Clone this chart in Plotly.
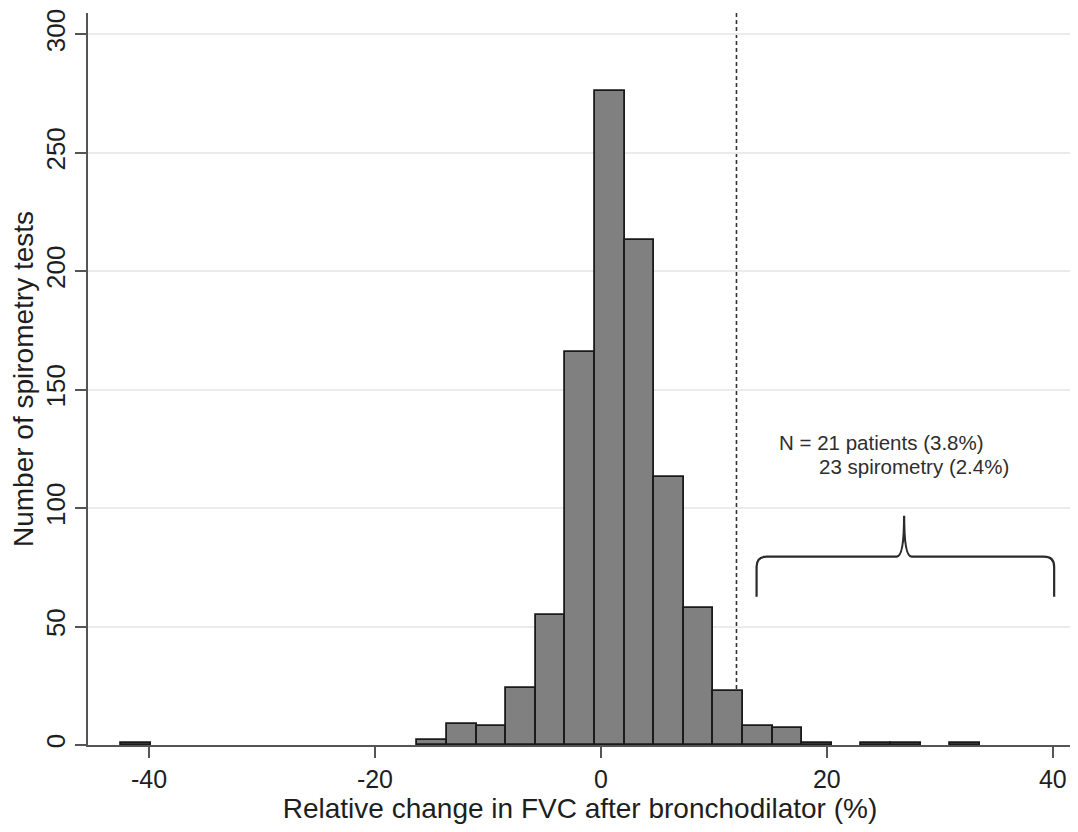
import plotly.graph_objects as go

# Histogram definition
bin_start = -42.45
bin_width = 2.62
counts = [1, 0, 0, 0, 0, 0, 0, 0, 0, 0,
          2, 9, 8, 24, 55, 166, 276, 213, 113, 58,
          23, 8, 7, 1, 0, 1, 1, 0, 1]

x_ticks = [-40, -20, 0, 20, 40]
y_ticks = [0, 50, 100, 150, 200, 250, 300]
cutoff = 12
note_line1 = "N = 21 patients (3.8%)"
note_line2 = "23 spirometry (2.4%)"
x_title = "Relative change in FVC after bronchodilator (%)"
y_title = "Number of spirometry tests"

centers = [bin_start + bin_width * (i + 0.5) for i in range(len(counts))]
heights = [c if c > 0 else None for c in counts]

FONT = "Liberation Sans, Arial, sans-serif"
TXT = "#1e1e1e"

fig = go.Figure()
fig.add_trace(go.Bar(
    x=centers, y=heights, width=bin_width,
    marker=dict(color="#808080", line=dict(color="#1a1a1a", width=1.8)),
    hoverinfo="x+y", showlegend=False,
))

# dashed cut-off line
fig.add_shape(type="line", xref="x", yref="paper", x0=cutoff, x1=cutoff, y0=0, y1=1,
              line=dict(color="#333333", width=1.6, dash="4px,3px"), layer="below")

# curly brace over the > cut-off region
bx0, bx1, tip = 13.78, 40.12, 26.84
yb, yh, yt = 62.6, 79.55, 96.75
path = (f"M {bx0},{yb} L {bx0},{yh-4.3} Q {bx0},{yh} {bx0+0.9},{yh} "
        f"L {tip-0.65},{yh} Q {tip},{yh} {tip},{yt} "
        f"Q {tip},{yh} {tip+0.65},{yh} L {bx1-0.9},{yh} "
        f"Q {bx1},{yh} {bx1},{yh-4.3} L {bx1},{yb}")
fig.add_shape(type="path", xref="x", yref="y", path=path,
              line=dict(color="#2a2a2a", width=2.2))

fig.add_annotation(x=15.6, y=127.6, xref="x", yref="y", text=note_line1,
                   showarrow=False, xanchor="left", yanchor="middle",
                   font=dict(family=FONT, size=20.5, color="#2e2e2e"))
fig.add_annotation(x=19.1, y=117.4, xref="x", yref="y", text=note_line2,
                   showarrow=False, xanchor="left", yanchor="middle",
                   font=dict(family=FONT, size=20.5, color="#2e2e2e"))

# page body has an 8px margin, so the figure is sized/offset to fit the window
fig.update_layout(
    width=1070, height=824,
    margin=dict(l=80, r=6, t=5, b=87),
    plot_bgcolor="white", paper_bgcolor="white",
    font=dict(family=FONT, color=TXT),
    bargap=0,
)
fig.update_xaxes(
    range=[-45.4, 41.7], tickvals=x_ticks, ticktext=[str(v) for v in x_ticks],
    automargin=False,
    showgrid=False, zeroline=False,
    showline=True, linecolor="#555555", linewidth=1.5,
    ticks="outside", ticklen=11, tickwidth=1.5, tickcolor="#555555",
    tickfont=dict(size=25, family=FONT, color=TXT),
    title=dict(text=x_title, font=dict(size=28, family=FONT, color=TXT), standoff=2),
)
fig.update_yaxes(
    range=[0, 309], tickvals=y_ticks, ticktext=[str(v) for v in y_ticks],
    tickangle=-90, automargin=False,
    showgrid=True, gridcolor="#ebebeb", gridwidth=2, zeroline=False,
    showline=True, linecolor="#555555", linewidth=1.5,
    ticks="outside", ticklen=11, tickwidth=1.5, tickcolor="#555555",
    tickfont=dict(size=26, family=FONT, color=TXT),
    title=dict(text=y_title, font=dict(size=28, family=FONT, color=TXT), standoff=2),
)

fig.write_html("out.html")
